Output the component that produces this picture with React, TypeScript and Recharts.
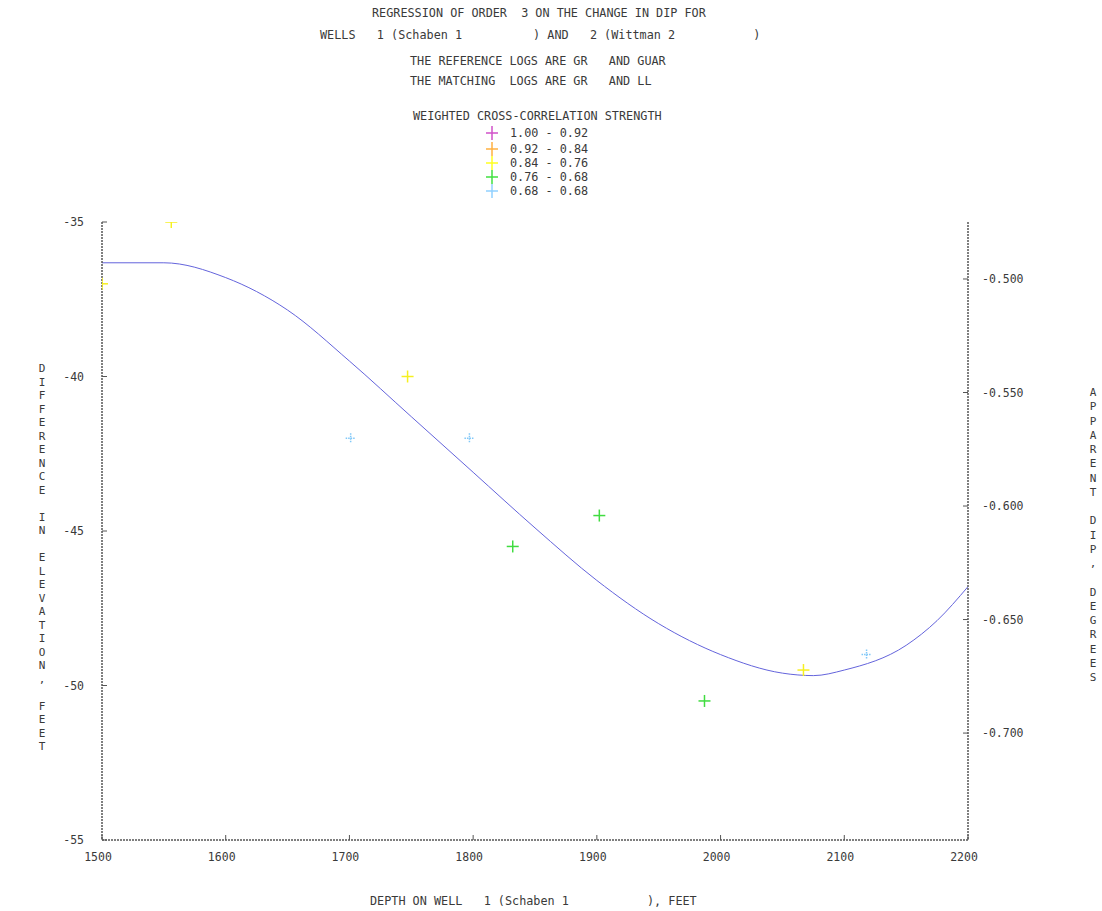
import React from "react";
import { ComposedChart, XAxis, YAxis, Line, Scatter } from "recharts";

const xTicks = [1500, 1600, 1700, 1800, 1900, 2000, 2100, 2200];
const leftTicks = [-55, -50, -45, -40, -35];
const rightTicks = [-0.7, -0.65, -0.6, -0.55, -0.5];

const curveDepth = [1500, 1550, 1600, 1650, 1700, 1750, 1800, 1850, 1900, 1950, 2000, 2050, 2075, 2100, 2150, 2175, 2200];
const curveDiff = [-36.32, -36.32, -36.8, -37.85, -39.5, -41.3, -43.1, -44.9, -46.6, -48.0, -49.0, -49.6, -49.68, -49.5, -48.7, -47.9, -46.8];

const yellowDepth = [1500, 1556, 1747, 2067];
const yellowDiff = [-37.0, -35.0, -40.0, -49.5];
const greenDepth = [1832, 1902, 1987];
const greenDiff = [-45.5, -44.5, -50.5];
const blueDepth = [1701, 1797, 2118];
const blueDiff = [-42.0, -42.0, -49.0];

const legendLabels = ["1.00 - 0.92", "0.92 - 0.84", "0.84 - 0.76", "0.76 - 0.68", "0.68 - 0.68"];
const legendColors = ["#d050c8", "#ffb040", "#ffff20", "#40e040", "#90d0ff"];

const titleLines = [
  "REGRESSION OF ORDER  3 ON THE CHANGE IN DIP FOR",
  "WELLS   1 (Schaben 1          ) AND   2 (Wittman 2           )",
  "THE REFERENCE LOGS ARE GR   AND GUAR",
  "THE MATCHING  LOGS ARE GR   AND LL",
  "WEIGHTED CROSS-CORRELATION STRENGTH",
];
const xLabel = "DEPTH ON WELL   1 (Schaben 1           ), FEET";
const leftLabel = "DIFFERENCE IN ELEVATION, FEET";
const rightLabel = "APPARENT DIP, DEGREES";

const zip = (xs: number[], ys: number[]) => xs.map((x, i) => ({ x, y: ys[i] }));
const curve = zip(curveDepth, curveDiff);
const yellow = zip(yellowDepth, yellowDiff);
const green = zip(greenDepth, greenDiff);
const blue = zip(blueDepth, blueDiff);

const FONT = "'DejaVu Sans Mono', monospace";
const TXT = "#3a3a3a";
const AXIS = "#555";

const makeCross = (color: string, dashed: boolean, half = 6) => (props: any) => {
  const { cx, cy } = props;
  if (cx == null || cy == null) return <g />;
  return (
    <g>
      <line x1={cx - half} x2={cx + half} y1={cy} y2={cy} stroke={color} strokeWidth={1.5} strokeDasharray={dashed ? "1.5 1" : undefined} />
      <line x1={cx} x2={cx} y1={cy - half} y2={cy + half} stroke={color} strokeWidth={1.5} strokeDasharray={dashed ? "1.5 1" : undefined} />
    </g>
  );
};

const LeftTick = (props: any) => {
  const { x, y, payload } = props;
  return (
    <g>
      <line x1={x} x2={x + 5} y1={y} y2={y} stroke={AXIS} />
      <text x={x - 18} y={y} dy={4} textAnchor="end" fontFamily={FONT} fontSize={11.5} fill={TXT}>{payload.value}</text>
    </g>
  );
};
const RightTick = (props: any) => {
  const { x, y, payload } = props;
  return (
    <g>
      <line x1={x - 5} x2={x} y1={y} y2={y} stroke={AXIS} />
      <text x={x + 14} y={y} dy={4} textAnchor="start" fontFamily={FONT} fontSize={11.5} fill={TXT}>{Number(payload.value).toFixed(3)}</text>
    </g>
  );
};
const BottomTick = (props: any) => {
  const { x, y, payload } = props;
  return (
    <g>
      <line x1={x} x2={x} y1={y - 5} y2={y} stroke={AXIS} />
      <text x={x - 4} y={y + 17} dy={4} textAnchor="middle" fontFamily={FONT} fontSize={11.5} fill={TXT}>{payload.value}</text>
    </g>
  );
};
const TopTick = (props: any) => {
  const { x, y } = props;
  return <line x1={x} x2={x} y1={y} y2={y + 5} stroke={AXIS} />;
};

const axisLine = { stroke: AXIS, strokeWidth: 1.5, strokeDasharray: "2 1" };

const textStyle: React.CSSProperties = {
  position: "absolute",
  fontFamily: FONT,
  fontSize: 11.8,
  color: TXT,
  whiteSpace: "pre",
  lineHeight: "14px",
};

export default function App() {
  const titleTops = [6, 28, 54, 74, 109];
  const titleLefts = [372, 320, 410, 410, 413];
  const legendYs = [133, 149, 163, 177, 191];
  return (
    <div style={{ position: "fixed", left: 0, top: 0, width: 1102, height: 911, background: "#fff" }}>
      <ComposedChart width={1102} height={911} margin={{ top: 222, right: 54, bottom: 41, left: 42 }}>
        <XAxis xAxisId="bottom" dataKey="x" type="number" domain={[1500, 2200]} ticks={xTicks} orientation="bottom" height={30} tickSize={0} tickMargin={0} axisLine={axisLine} tick={<BottomTick />} interval={0} allowDataOverflow />
        <XAxis xAxisId="top" dataKey="x" type="number" domain={[1500, 2200]} ticks={xTicks} orientation="top" height={0} tickSize={0} tickMargin={0} axisLine={axisLine} tick={<TopTick />} interval={0} allowDataOverflow />
        <YAxis yAxisId="left" dataKey="y" type="number" domain={[-55, -35]} ticks={leftTicks} orientation="left" width={60} tickSize={0} tickMargin={0} axisLine={axisLine} tick={<LeftTick />} interval={0} allowDataOverflow />
        <YAxis yAxisId="right" type="number" domain={[-0.7471, -0.4749]} ticks={rightTicks} orientation="right" width={80} tickSize={0} tickMargin={0} axisLine={axisLine} tick={<RightTick />} interval={0} allowDataOverflow />
        <Line xAxisId="bottom" yAxisId="left" data={curve} dataKey="y" type="monotone" dot={false} activeDot={false} stroke="#6464dc" strokeWidth={1} isAnimationActive={false} />
        <Scatter xAxisId="bottom" yAxisId="left" data={yellow} dataKey="y" fill="#ffff20" shape={makeCross("#f6f020", false)} isAnimationActive={false} />
        <Scatter xAxisId="bottom" yAxisId="left" data={green} dataKey="y" fill="#40e040" shape={makeCross("#40dc40", false)} isAnimationActive={false} />
        <Scatter xAxisId="bottom" yAxisId="left" data={blue} dataKey="y" fill="#90d0ff" shape={makeCross("#80c8f8", true, 5)} isAnimationActive={false} />
      </ComposedChart>

      {titleLines.map((t, i) => (
        <div key={i} style={{ ...textStyle, left: titleLefts[i], top: titleTops[i] }}>{t}</div>
      ))}

      {legendLabels.map((l, i) => (
        <React.Fragment key={l + i}>
          <svg style={{ position: "absolute", left: 484, top: legendYs[i] - 8 }} width={16} height={16}>
            <line x1={2} x2={14} y1={8} y2={8} stroke={legendColors[i]} strokeWidth={1.5} />
            <line x1={8} x2={8} y1={1} y2={15} stroke={legendColors[i]} strokeWidth={1.5} />
          </svg>
          <div style={{ ...textStyle, left: 510, top: legendYs[i] - 7 }}>{l}</div>
        </React.Fragment>
      ))}

      <div style={{ ...textStyle, left: 370, top: 894 }}>{xLabel}</div>

      <div style={{ position: "absolute", left: 36, top: 362, width: 12, fontFamily: FONT, fontSize: 11, color: TXT, textAlign: "center" }}>
        {leftLabel.split("").map((c, i) => (
          <div key={i} style={{ height: 13.5, lineHeight: "13.5px" }}>{c === " " ? "\u00a0" : c}</div>
        ))}
      </div>
      <div style={{ position: "absolute", left: 1087, top: 386, width: 12, fontFamily: FONT, fontSize: 11, color: TXT, textAlign: "center" }}>
        {rightLabel.split("").map((c, i) => (
          <div key={i} style={{ height: 14.25, lineHeight: "14.25px" }}>{c === " " ? "\u00a0" : c}</div>
        ))}
      </div>
    </div>
  );
}
